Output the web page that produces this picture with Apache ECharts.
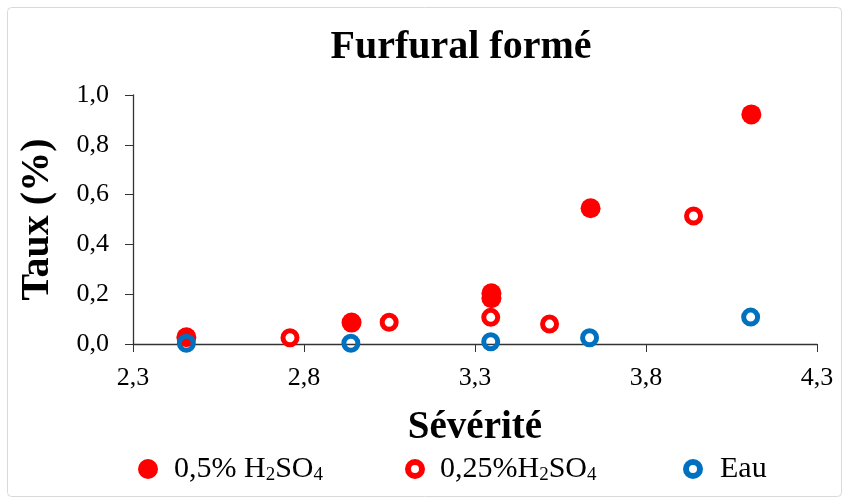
<!DOCTYPE html>
<html>
<head>
<meta charset="utf-8">
<script src="https://cdn.jsdelivr.net/npm/echarts@6/dist/echarts.min.js"></script>
<style>
    html, body { margin: 0; padding: 0; background: #fff; }
    #chart { width: 849px; height: 504px; }
</style>
</head>
<body>
<div id="chart"></div>
<script>
// données
var acide05 = [[2.456, 0.027], [2.939, 0.086], [3.348, 0.204], [3.348, 0.184], [3.638, 0.545], [4.108, 0.922]];
var acide025 = [[2.759, 0.025], [3.049, 0.087], [3.346, 0.107], [3.518, 0.080], [3.939, 0.514]];
var eau = [[2.456, 0.003], [2.937, 0.003], [3.346, 0.009], [3.635, 0.025], [4.106, 0.108]];
var noms = ['0,5% H2SO4', '0,25%H2SO4', 'Eau'];

var serif = '"Liberation Serif", "DejaVu Serif", serif';

function virgule(v, n) {
    return v.toFixed(n).replace('.', ',');
}

var myChart = echarts.init(document.getElementById('chart'));

// une légende par série pour placer chaque entrée
var legendePos = [
    { left: 133, taille: 20, bord: 0, decal: 11 },
    { left: 400, taille: 14, bord: 6, decal: 13 },
    { left: 678, taille: 14, bord: 6, decal: 15 }
];
var legendes = [];
for (var i = 0; i < noms.length; i++) {
    legendes.push({
        data: [noms[i]],
        left: legendePos[i].left,
        top: 449,
        itemWidth: legendePos[i].taille,
        itemHeight: legendePos[i].taille,
        icon: 'circle',
        itemStyle: { borderWidth: legendePos[i].bord },
        formatter: function (name) {
            return name.replace('H2', 'H{sub|2}').replace(/4$/, '{sub|4}');
        },
        textStyle: {
            fontFamily: serif, fontSize: 30, color: '#000',
            padding: [0, 0, 0, legendePos[i].decal],
            rich: {
                sub: { fontFamily: serif, fontSize: 19, color: '#000', verticalAlign: 'bottom', padding: [12, 0, 0, 0] }
            }
        }
    });
}

var option = {
    backgroundColor: '#fff',
    animation: false,
    title: {
        text: 'Furfural formé',
        left: 456,
        top: 23,
        textAlign: 'center',
        textStyle: { fontFamily: serif, fontSize: 40, fontWeight: 'bold', color: '#000' }
    },
    graphic: [{
        type: 'rect',
        shape: { x: 7.5, y: 7.5, width: 834, height: 489, r: 4 },
        style: { fill: 'none', stroke: '#d9d9d9', lineWidth: 1 }
    }],
    legend: legendes,
    grid: { left: 133, right: 32, top: 95, bottom: 160, outerBoundsMode: 'none' },
    xAxis: {
        type: 'value',
        min: 2.3,
        max: 4.3,
        interval: 0.5,
        name: 'Sévérité',
        nameLocation: 'middle',
        nameGap: 64,
        nameTextStyle: { fontFamily: serif, fontSize: 39, fontWeight: 'bold', color: '#000' },
        axisLine: { show: true, lineStyle: { color: '#333', width: 1.3 } },
        axisTick: { show: true, length: 8, lineStyle: { color: '#333' } },
        splitLine: { show: false },
        axisLabel: {
            fontFamily: serif, fontSize: 26, color: '#000', margin: 21,
            formatter: function (v) { return virgule(v, 1); }
        }
    },
    yAxis: {
        type: 'value',
        min: 0,
        max: 1,
        interval: 0.2,
        name: 'Taux (%)',
        nameLocation: 'middle',
        nameGap: 75,
        nameTextStyle: { fontFamily: serif, fontSize: 40, fontWeight: 'bold', color: '#000' },
        axisLine: { show: true, lineStyle: { color: '#333', width: 1.3 } },
        axisTick: { show: true, length: 8, lineStyle: { color: '#333' } },
        splitLine: { show: false },
        axisLabel: {
            fontFamily: serif, fontSize: 26, color: '#000', margin: 24,
            formatter: function (v) { return virgule(v, 1); }
        }
    },
    series: [
        {
            name: noms[0],
            type: 'scatter',
            symbol: 'circle',
            symbolSize: 20,
            itemStyle: { color: '#ff0000', opacity: 1 },
            data: acide05
        },
        {
            name: noms[1],
            type: 'scatter',
            symbol: 'circle',
            symbolSize: 14,
            itemStyle: { color: 'rgba(0,0,0,0)', borderColor: '#ff0000', borderWidth: 5, opacity: 1 },
            data: acide025
        },
        {
            name: noms[2],
            type: 'scatter',
            symbol: 'circle',
            symbolSize: 14,
            itemStyle: { color: 'rgba(0,0,0,0)', borderColor: '#0070c0', borderWidth: 5, opacity: 1 },
            data: eau
        }
    ]
};

myChart.setOption(option);
</script>
</body>
</html>
